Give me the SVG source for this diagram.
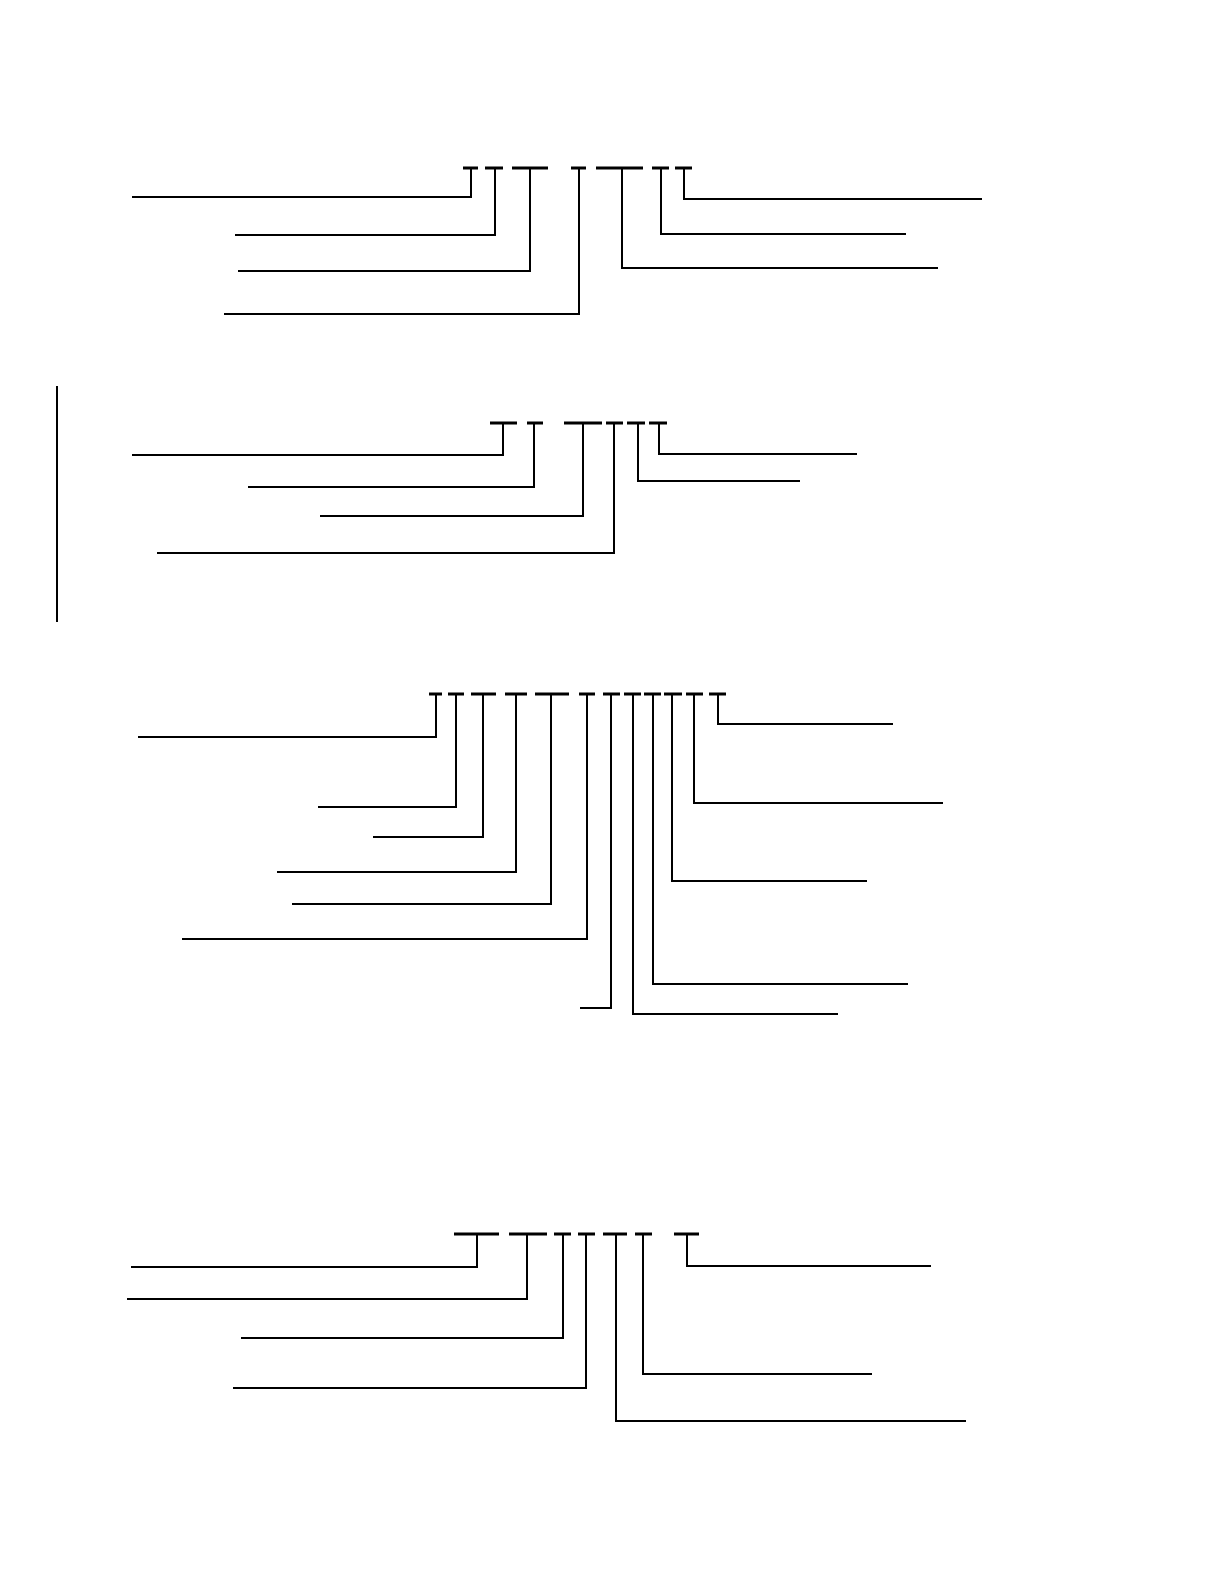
<svg xmlns="http://www.w3.org/2000/svg" width="1224" height="1584" viewBox="0 0 1224 1584">
<style>
.bar{stroke:#000;stroke-width:3;fill:none}
.ld{stroke:#000;stroke-width:2;fill:none}
</style>
<rect width="1224" height="1584" fill="#fff"/>
<g id="code1">
<path class="bar" d="M463 168H478M485 168H503M512 168H548M571 168H586M596 168H643M652 168H669M675 168H692"/>
</g>
<g id="code2">
<path class="bar" d="M490 423H517M527 423H543M564 423H602M606 423H623M627 423H645M649 423H667"/>
</g>
<g id="code3">
<path class="bar" d="M429 694H442M448 694H464M471 694H496M505 694H527M535 694H569M579 694H595M603 694H620M624 694H641M644 694H661M664 694H682M686 694H703M709 694H726"/>
</g>
<g id="code4">
<path class="bar" d="M454 1234H499M509 1234H547M554 1234H571M578 1234H595M603 1234H627M635 1234H652M674 1234H699"/>
</g>
<g id="sidebar">
<path class="ld" d="M57 386V622"/>
</g>
<g id="connectors">
<path class="ld" d="M132 197H471V168M235 235H495V168M238 271H530V168M224 314H579V168M938 268H622V168M906 234H661V168M982 199H684V168"/>
<path class="ld" d="M132 455H503V423M248 487H534V423M320 516H583V423M157 553H614V423M800 481H638V423M857 454H659V423"/>
<path class="ld" d="M138 737H436V694M318 807H456V694M373 837H483V694M277 872H516V694M292 904H551V694M182 939H587V694M580 1008H611V694M838 1014H633V694M908 984H653V694M867 881H672V694M943 803H694V694M893 724H718V694"/>
<path class="ld" d="M131 1267H477V1234M127 1299H527V1234M241 1338H563V1234M233 1388H586V1234M966 1421H616V1234M872 1374H643V1234M931 1266H687V1234"/>
</g>
</svg>
